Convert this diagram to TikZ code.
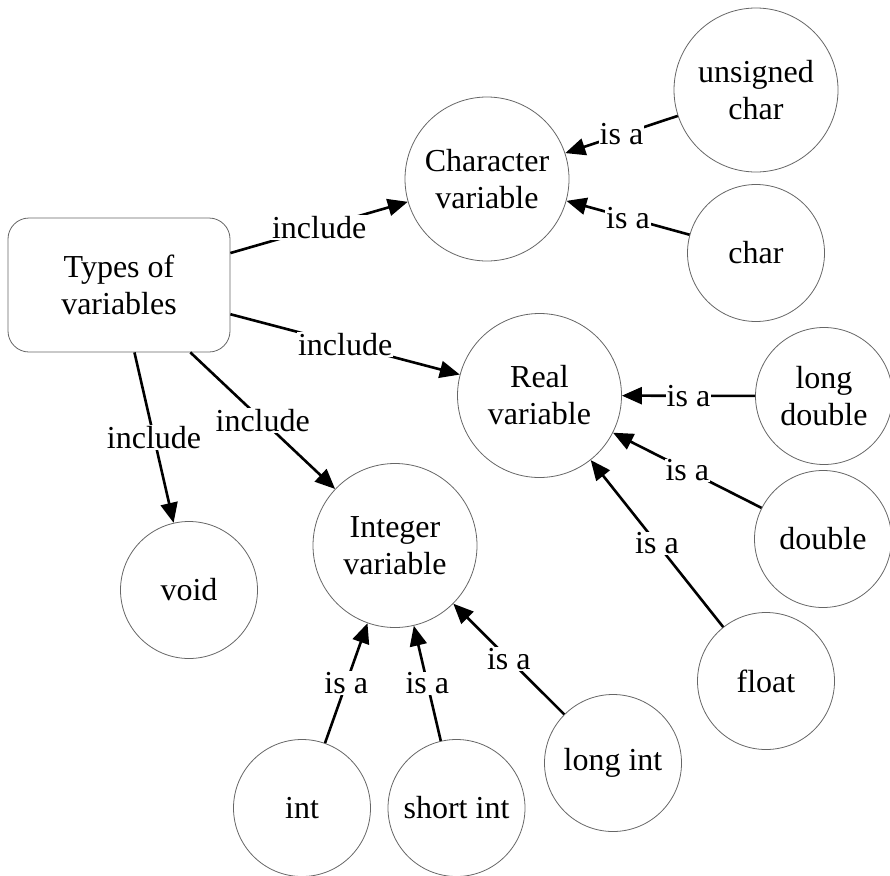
\documentclass[tikz,border=0pt]{standalone}
\usepackage{fontspec}
\setmainfont{Liberation Serif}
\usetikzlibrary{arrows.meta}
\begin{document}
\begin{tikzpicture}[x=1pt,y=-1pt,
  txt/.style={font=\fontsize{32}{37}\selectfont, align=center, text=black},
  big/.style={txt, circle, draw=black!60, line width=0.8pt, minimum size=164pt, inner sep=0pt},
  small/.style={big, minimum size=137pt},
  rbox/.style={txt, rectangle, rounded corners=21pt, draw=black!60, line width=0.8pt, minimum width=222pt, minimum height=134pt},
  edge/.style={line width=2.6pt, -{Triangle[length=20pt,width=17pt]}},
  lbl/.style={txt, fill=white, inner sep=1pt, midway}]
\useasboundingbox (0,0) rectangle (890,875);
\node[rbox] (types) at (119,285) {Types of\\variables};
\node[big] (charv) at (487,179) {Character\\variable};
\node[big] (realv) at (539.5,395.5) {Real\\variable};
\node[big] (intv) at (395,545.5) {Integer\\variable};
\node[big] (uchar) at (756,90) {unsigned\\char};
\node[small] (char) at (756,253) {char};
\node[small] (ldouble) at (824,396) {long\\double};
\node[small] (double) at (823,539) {double};
\node[small] (float) at (766,681) {float};
\node[small] (void) at (189,590) {void};
\node[small] (int) at (302,808) {int};
\node[small] (sint) at (456.5,808) {short int};
\node[small] (lint) at (613,763) {long int};
\draw[edge] (types) -- node[lbl]{include} (charv);
\draw[edge] (types) -- node[lbl]{include} (realv);
\draw[edge] (types) -- node[lbl]{include} (intv);
\draw[edge] (types) -- node[lbl]{include} (void);
\draw[edge] (uchar) -- node[lbl]{is a} (charv);
\draw[edge] (char) -- node[lbl]{is a} (charv);
\draw[edge] (ldouble) -- node[lbl]{is a} (realv);
\draw[edge] (double) -- node[lbl]{is a} (realv);
\draw[edge] (float) -- node[lbl]{is a} (realv);
\draw[edge] (int) -- node[lbl]{is a} (intv);
\draw[edge] (sint) -- node[lbl]{is a} (intv);
\draw[edge] (lint) -- node[lbl]{is a} (intv);
\end{tikzpicture}
\end{document}
